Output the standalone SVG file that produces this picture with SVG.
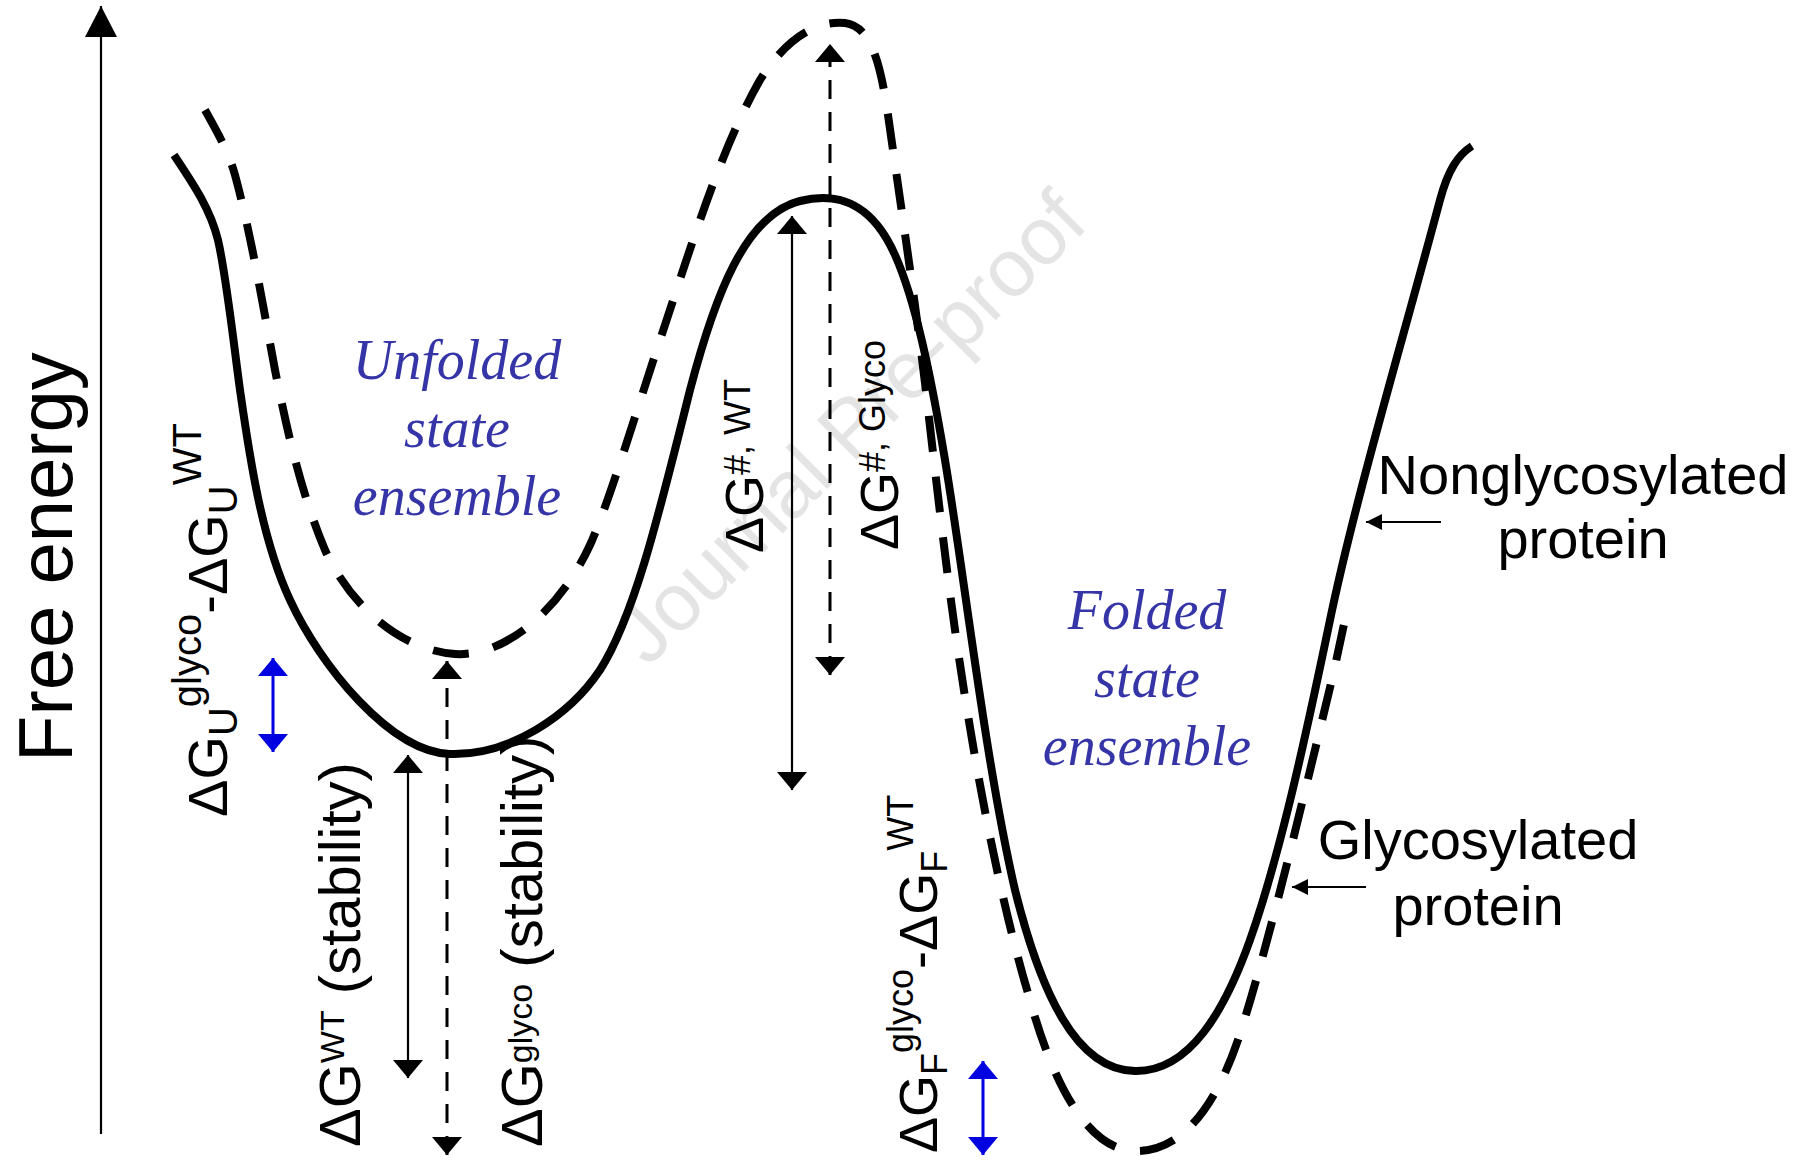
<svg xmlns="http://www.w3.org/2000/svg" width="1809" height="1161" viewBox="0 0 1809 1161">
<style>
.curve{fill:none;stroke:#000;stroke-width:8}
.dashed{stroke-dasharray:36 25}
.conn{fill:none;stroke:#000;stroke-width:2.2}
.conn-dash{stroke-width:3;stroke-dasharray:19 13}
.blue{fill:none;stroke:#0000e0;stroke-width:3}
.lbl{font-family:"Liberation Sans",Arial,sans-serif;fill:#000}
.state{font-family:"Liberation Serif","Times New Roman",serif;font-style:italic;fill:#3535a8;font-size:56px;text-anchor:middle}
.side{font-family:"Liberation Sans",Arial,sans-serif;fill:#000;font-size:56px;text-anchor:middle}
.wm{font-family:"Liberation Sans",Arial,sans-serif;fill:#e4e4e4;font-size:81px}
</style>
<defs>
<marker id="ah" viewBox="0 0 18 30" refX="18" refY="15" markerWidth="18" markerHeight="30" markerUnits="userSpaceOnUse" orient="auto-start-reverse"><path d="M0,0 L18,15 L0,30 Z" fill="#000"/></marker>
<marker id="ahb" viewBox="0 0 18 30" refX="18" refY="15" markerWidth="18" markerHeight="30" markerUnits="userSpaceOnUse" orient="auto-start-reverse"><path d="M0,0 L18,15 L0,30 Z" fill="#0000e0"/></marker>
<marker id="ahs" viewBox="0 0 16 16" refX="16" refY="8" markerWidth="16" markerHeight="16" markerUnits="userSpaceOnUse" orient="auto"><path d="M0,0 L16,8 L0,16 Z" fill="#000"/></marker>
<marker id="ahx" viewBox="0 0 31 32" refX="31" refY="16" markerWidth="31" markerHeight="32" markerUnits="userSpaceOnUse" orient="auto"><path d="M0,0 L31,16 L0,32 Z" fill="#000"/></marker>
</defs>

<text class="wm" transform="translate(648,668) rotate(-45)">Journal Pre-proof</text>

<g id="axis">
<line x1="101" y1="1134" x2="101" y2="6" class="conn" marker-end="url(#ahx)"/>
<text class="lbl" font-size="76" transform="translate(72,762) rotate(-90)">Free energy</text>
</g>

<g id="curves">
<path id="nonglycosylated-curve" class="curve" d="M174,155 C192,182 210,208 218,240 C226,275 232,330 240,390 C250,460 262,540 290,600 C320,665 390,752 450,754 C510,756 570,715 600,670 C635,615 660,510 690,390 C715,295 745,215 800,201 C845,190 875,210 895,255 C915,300 930,370 945,460 C965,580 985,760 1015,890 C1040,990 1075,1070 1135,1071 C1190,1072 1225,1010 1250,940 C1280,855 1305,740 1330,620 C1355,500 1400,350 1440,200 C1448,170 1458,155 1472,146"/>
<path id="glycosylated-curve" class="curve dashed" d="M205,110 C215,128 228,150 235,175 C250,230 262,300 275,370 C287,430 300,490 325,550 C350,605 400,650 455,654 C505,657 560,610 590,545 C610,500 635,415 660,340 C690,250 720,150 760,80 C785,40 815,20 845,23 C870,26 880,60 888,115 C900,200 915,300 925,383 C935,470 945,560 956,637 C975,770 1000,900 1030,1000 C1055,1090 1090,1150 1135,1151 C1180,1152 1214,1110 1238,1040 C1266,955 1303,800 1333,675 C1339,648 1344,625 1348,604"/>
</g>

<g id="connectors">
<line id="dG-ts-wt" class="conn" x1="792" y1="790" x2="792" y2="216" marker-start="url(#ah)" marker-end="url(#ah)"/>
<line id="dG-ts-glyco" class="conn conn-dash" x1="830" y1="675" x2="830" y2="44" marker-start="url(#ah)" marker-end="url(#ah)"/>
<line id="dG-wt" class="conn" x1="408" y1="1078" x2="408" y2="755" marker-start="url(#ah)" marker-end="url(#ah)"/>
<line id="dG-glyco" class="conn conn-dash" x1="447" y1="1155" x2="447" y2="661" marker-start="url(#ah)" marker-end="url(#ah)"/>
<line id="dGU-diff" class="blue" x1="273" y1="752" x2="273" y2="658" marker-start="url(#ahb)" marker-end="url(#ahb)"/>
<line id="dGF-diff" class="blue" x1="983" y1="1155" x2="983" y2="1061" marker-start="url(#ahb)" marker-end="url(#ahb)"/>
<line id="ptr-nonglyco" class="conn" x1="1441" y1="522" x2="1366" y2="522" marker-end="url(#ahs)"/>
<line id="ptr-glyco" class="conn" x1="1366" y1="887" x2="1292" y2="887" marker-end="url(#ahs)"/>
</g>

<g id="unfolded-label">
<text class="state" x="457" y="379">Unfolded</text>
<text class="state" x="457" y="447">state</text>
<text class="state" x="457" y="515">ensemble</text>
</g>
<g id="folded-label">
<text class="state" x="1147" y="629">Folded</text>
<text class="state" x="1147" y="697">state</text>
<text class="state" x="1147" y="765">ensemble</text>
</g>
<g id="nonglyco-label">
<text class="side" x="1583" y="494">Nonglycosylated</text>
<text class="side" x="1583" y="558">protein</text>
</g>
<g id="glyco-label">
<text class="side" x="1478" y="859">Glycosylated</text>
<text class="side" x="1478" y="925">protein</text>
</g>

<g id="label-dGU">
<text class="lbl" font-size="56" transform="translate(227,817) rotate(-90)">ΔG<tspan font-size="40" dy="10">U</tspan><tspan font-size="40" dy="-36">glyco</tspan><tspan dy="26">-ΔG</tspan><tspan font-size="40" dy="10">U</tspan><tspan font-size="40" dy="-36">WT</tspan></text>
</g>
<g id="label-dGts-wt">
<text class="lbl" font-size="54" transform="translate(763,553) rotate(-90)">ΔG<tspan font-size="36" dy="-13">#, WT</tspan></text>
</g>
<g id="label-dGts-glyco">
<text class="lbl" font-size="54" transform="translate(898,550) rotate(-90)">ΔG<tspan font-size="36" dy="-13">#, Glyco</tspan></text>
</g>
<g id="label-dG-wt">
<text class="lbl" font-size="58" transform="translate(360,1147) rotate(-90)">ΔG<tspan font-size="34" dy="-16">WT</tspan><tspan dy="16"> (stability)</tspan></text>
</g>
<g id="label-dG-glyco">
<text class="lbl" font-size="58" transform="translate(542,1147) rotate(-90)">ΔG<tspan font-size="34" dy="-10">glyco</tspan><tspan dy="10"> (stability)</tspan></text>
</g>
<g id="label-dGF">
<text class="lbl" font-size="54" transform="translate(937,1153) rotate(-90)">ΔG<tspan font-size="36" dy="10">F</tspan><tspan font-size="36" dy="-34">glyco</tspan><tspan dy="24">-ΔG</tspan><tspan font-size="36" dy="10">F</tspan><tspan font-size="36" dy="-34">WT</tspan></text>
</g>
</svg>
